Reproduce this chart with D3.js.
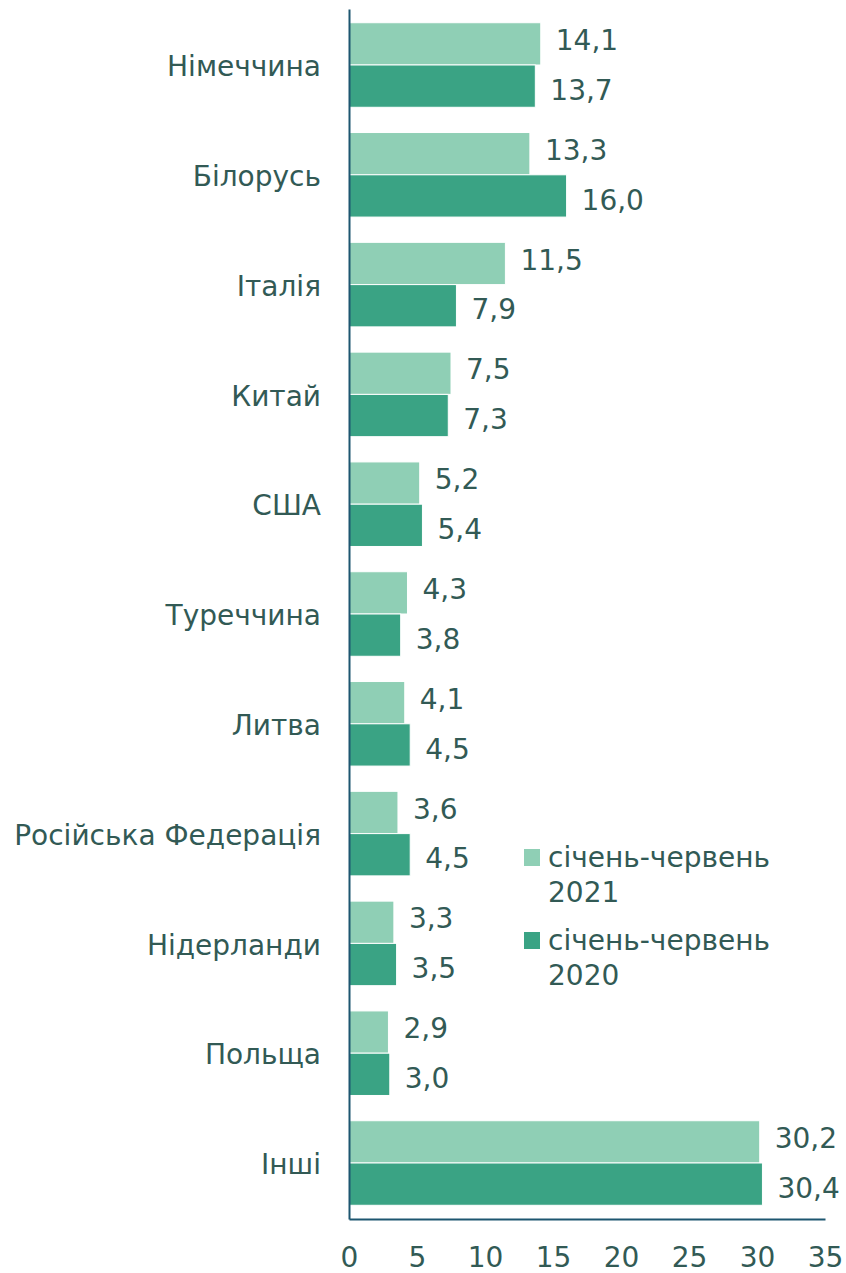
<!DOCTYPE html>
<html>
<head>
  <meta charset="UTF-8">
  <title>Країни</title>
  <script src="https://d3js.org/d3.v7.min.js"></script>
  <style>
    body { margin: 0; background: #fff; }
    svg { font-family: 'DejaVu Sans', Verdana, sans-serif; }
    .txt { fill: #325a55; font-size: 28px; font-family: 'DejaVu Sans', Verdana, sans-serif; }
  </style>
</head>
<body>
  <svg></svg>
  <script>
    const countries = ['Німеччина', 'Білорусь', 'Італія', 'Китай', 'США', 'Туреччина', 'Литва',
      'Російська Федерація', 'Нідерланди', 'Польща', 'Інші'];
    const values2021 = [14.1, 13.3, 11.5, 7.5, 5.2, 4.3, 4.1, 3.6, 3.3, 2.9, 30.2];
    const values2020 = [13.7, 16.0, 7.9, 7.3, 5.4, 3.8, 4.5, 4.5, 3.5, 3.0, 30.4];
    const seriesNames = ['січень-червень 2021', 'січень-червень 2020'];
    const xTicks = [0, 5, 10, 15, 20, 25, 30, 35];
    const colors = ['#8fcfb5', '#3aa384'];

    const W = 846, H = 1273;
    const svg = d3.select('svg').attr('width', W).attr('height', H);

    const x = d3.scaleLinear().domain([0, 35]).range([349, 825]);
    const y = d3.scaleBand().domain(countries).range([9, 1219])
      .paddingInner(0.23).paddingOuter(0.125);
    const sub = d3.scaleBand().domain([0, 1]).range([0, y.bandwidth()]);
    const labelShift = [-4, 3.5];

    const rows = countries.map((c, i) => ({ c, v: [values2021[i], values2020[i]] }));

    const g = svg.selectAll('.grp').data(rows).enter().append('g')
      .attr('transform', d => `translate(0,${y(d.c)})`);

    g.selectAll('rect').data(d => d.v).enter().append('rect')
      .attr('x', x(0))
      .attr('y', (d, i) => sub(i))
      .attr('width', d => x(d) - x(0))
      .attr('height', sub.bandwidth())
      .attr('fill', (d, i) => colors[i])
      .attr('stroke', '#fff')
      .attr('stroke-width', 1);

    g.selectAll('.val').data(d => d.v).enter().append('text')
      .attr('class', 'txt')
      .attr('x', d => x(d) + 15)
      .attr('y', (d, i) => sub(i) + sub.bandwidth() / 2 + labelShift[i])
      .attr('dy', '0.36em')
      .text(d => d3.format('.1f')(d).replace('.', ','));

    // category axis
    const yAxis = svg.append('g').attr('transform', `translate(${x(0)},0)`)
      .call(d3.axisLeft(y).tickSize(0).tickPadding(28));
    yAxis.select('.domain').attr('stroke', '#1d5670').attr('stroke-width', 2);
    yAxis.selectAll('text').attr('class', 'txt').attr('dy', '0.4em');

    // value axis
    const xAxis = svg.append('g').attr('transform', 'translate(0,1219)')
      .call(d3.axisBottom(x).tickValues(xTicks).tickSize(0).tickPadding(28));
    xAxis.select('.domain').attr('stroke', '#1d5670').attr('stroke-width', 2);
    xAxis.selectAll('text').attr('class', 'txt');

    // legend
    const legend = svg.append('g').attr('transform', 'translate(524,849)');
    seriesNames.forEach((name, i) => {
      const lg = legend.append('g').attr('transform', `translate(0,${i * 83})`);
      lg.append('rect').attr('width', 16).attr('height', 17).attr('fill', colors[i]);
      const parts = name.split(' ');
      lg.append('text').attr('class', 'txt').attr('x', 24).attr('y', 18).text(parts[0]);
      lg.append('text').attr('class', 'txt').attr('x', 24).attr('y', 53).text(parts[1]);
    });
  </script>
</body>
</html>
